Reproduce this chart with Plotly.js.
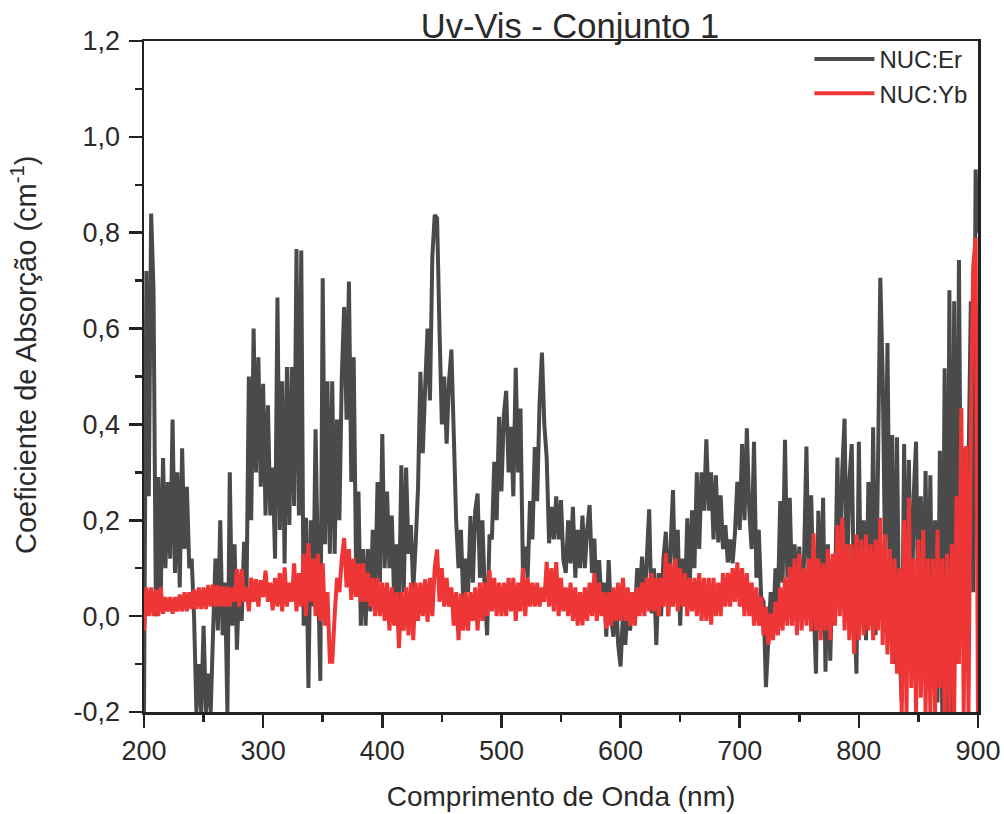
<!DOCTYPE html>
<html>
<head>
<meta charset="utf-8">
<script src="https://cdn.plot.ly/plotly-3.0.1.min.js"></script>
<style>html,body{margin:0;padding:0;background:#fff}</style>
</head>
<body>
<div id="chart" style="width:1004px;height:814px"></div>
<script>
const wavelengths = [
200,202,204,206,208,210,212,214,216,218,220,222,224,226,228,230,232,234,236,238,
240,242,244,246,248,250,252,254,256,258,260,262,264,266,268,270,272,274,276,278,
280,282,284,286,288,290,292,294,296,298,300,302,304,306,308,310,312,314,316,318,
320,322,324,326,328,330,332,334,336,338,340,342,344,346,348,350,352,354,356,358,
360,362,364,366,368,370,372,374,376,378,380,382,384,386,388,390,392,394,396,398,
400,402,404,406,408,410,412,414,416,418,420,422,424,426,428,430,432,434,436,438,
440,442,444,446,448,450,452,454,456,458,460,462,464,466,468,470,472,474,476,478,
480,482,484,486,488,490,492,494,496,498,500,502,504,506,508,510,512,514,516,518,
520,522,524,526,528,530,532,534,536,538,540,542,544,546,548,550,552,554,556,558,
560,562,564,566,568,570,572,574,576,578,580,582,584,586,588,590,592,594,596,598,
600,602,604,606,608,610,612,614,616,618,620,622,624,626,628,630,632,634,636,638,
640,642,644,646,648,650,652,654,656,658,660,662,664,666,668,670,672,674,676,678,
680,682,684,686,688,690,692,694,696,698,700,702,704,706,708,710,712,714,716,718,
720,722,724,726,728,730,732,734,736,738,740,742,744,746,748,750,752,754,756,758,
760,762,764,766,768,770,772,774,776,778,780,782,784,786,788,790,792,794,796,798,
800,802,804,806,808,810,812,814,816,818,820,822,824,826,828,830,832,834,836,838,
840,842,844,846,848,850,852,854,856,858,860,862,864,866,868,870,872,874,876,878,
880,882,884,886,888,890,892,894,896,898,900];

const nucEr = [
-0.20,0.72,0.25,0.84,0.68,0.00,0.29,0.03,0.33,0.10,
0.28,0.12,0.41,0.09,0.30,0.06,0.35,0.14,0.27,0.10,
0.12,0.00,-0.20,-0.10,-0.20,-0.02,-0.20,-0.12,-0.20,-0.03,
0.12,-0.03,0.20,-0.04,0.07,-0.20,0.30,-0.02,0.15,-0.07,
0.08,-0.01,0.155,0.03,0.50,0.20,0.60,0.30,0.54,0.27,
0.485,0.21,0.44,0.21,0.31,0.12,0.665,0.18,0.49,0.11,
0.52,0.19,0.52,0.23,0.766,0.21,0.763,-0.02,0.205,-0.15,
0.20,0.02,0.39,0.10,-0.135,0.705,0.15,0.49,0.13,0.49,
0.13,0.41,0.20,0.50,0.645,0.41,0.698,0.28,0.54,0.10,
0.26,-0.02,0.14,-0.02,0.14,0.01,0.18,0.04,0.28,0.07,
0.38,0.10,0.26,0.10,0.21,0.03,0.15,0.01,0.315,0.05,
0.31,0.13,0.19,0.055,0.15,0.267,0.51,0.34,0.48,0.60,
0.45,0.75,0.837,0.83,0.60,0.40,0.50,0.36,0.49,0.556,
0.38,0.20,0.10,0.18,0.03,0.12,0.05,0.209,0.07,0.22,
0.256,0.08,0.20,0.05,-0.04,0.17,0.16,0.322,0.20,0.416,
0.26,0.42,0.47,0.30,0.395,0.25,0.518,0.30,0.433,0.10,
0.145,0.08,0.24,0.16,0.353,0.24,0.444,0.55,0.40,0.33,
0.152,0.228,0.16,0.25,0.16,0.242,0.117,0.09,0.20,0.11,
0.228,0.08,0.18,0.10,0.21,0.10,0.18,0.232,0.09,0.162,
0.02,0.117,0.03,0.07,-0.043,0.117,0.00,-0.043,0.05,-0.06,
-0.105,0.006,-0.06,0.03,-0.03,0.05,0.00,0.10,0.03,0.124,
0.02,0.12,0.223,0.006,0.10,-0.06,0.09,0.00,0.12,0.176,
0.00,0.15,0.263,0.04,0.18,-0.02,0.12,0.03,0.204,0.06,
0.221,0.10,0.30,0.14,0.30,0.22,0.369,0.22,0.30,0.16,
0.294,0.154,0.252,0.14,0.19,0.112,0.16,0.11,0.173,0.28,
0.18,0.359,0.20,0.392,0.22,0.14,0.364,0.08,0.18,0.04,
0.03,-0.148,-0.05,0.05,-0.03,0.10,0.02,0.24,0.07,0.368,
0.08,0.247,0.05,0.15,0.05,0.145,0.00,0.12,0.354,0.05,
0.252,0.03,-0.12,0.22,-0.03,0.247,-0.116,0.15,-0.093,0.12,
0.05,0.331,0.04,0.30,0.412,0.06,0.28,0.359,0.02,-0.12,
0.364,-0.02,0.20,-0.05,0.28,-0.02,0.394,-0.04,0.30,0.706,
0.50,0.12,0.57,0.08,0.378,-0.10,0.373,-0.06,-0.18,0.359,
-0.05,0.326,-0.10,0.25,0.364,-0.05,0.25,-0.03,0.303,-0.08,
0.294,-0.12,0.20,-0.18,0.345,-0.20,0.517,-0.20,0.68,-0.20,
0.657,-0.10,0.743,0.05,0.35,-0.05,0.30,0.657,0.05,0.932,0.80];

const nucYb = [
-0.03,0.06,0.00,0.06,0.00,0.055,0.00,0.06,0.005,0.04,
0.01,0.04,0.005,0.04,0.01,0.045,0.01,0.05,0.01,0.05,
0.015,0.055,0.015,0.06,0.015,0.06,0.015,0.065,0.02,0.066,
0.02,0.064,0.02,0.062,0.02,0.062,0.02,0.06,0.03,0.098,
0.02,0.098,0.03,0.06,0.01,0.08,0.03,0.077,0.02,0.075,
0.04,0.095,0.03,0.07,0.012,0.08,0.02,0.09,0.01,0.102,
0.02,0.07,0.03,0.11,0.01,0.09,0.02,0.13,0.00,0.152,
0.03,0.12,0.00,0.13,-0.01,0.11,-0.02,0.05,-0.095,-0.095,
0.00,0.08,0.05,0.12,0.163,0.06,0.14,0.034,0.12,0.04,
0.11,0.03,0.11,0.03,0.09,0.02,0.08,0.00,0.08,0.00,
0.07,-0.01,0.07,-0.03,0.06,-0.02,0.05,-0.067,0.05,-0.03,
0.06,-0.04,0.07,-0.05,0.07,-0.01,0.07,0.00,0.077,-0.012,
0.08,0.00,0.10,0.139,0.03,0.10,0.02,0.08,0.02,0.06,
-0.02,0.05,-0.05,0.047,-0.03,0.05,-0.03,0.05,-0.01,0.06,
-0.03,0.07,-0.01,0.07,0.00,0.096,0.01,0.08,0.00,0.07,
0.00,0.07,0.00,0.08,0.01,0.08,-0.01,0.07,0.01,0.10,
0.00,0.08,0.02,0.07,0.02,0.07,0.02,0.06,0.03,0.113,
0.02,0.10,0.01,0.113,0.00,0.08,0.01,0.06,0.00,0.07,
-0.01,0.06,-0.02,0.05,-0.019,0.06,-0.01,0.07,0.00,0.09,
-0.01,0.07,0.00,0.05,-0.026,0.05,-0.02,0.06,-0.01,0.07,
-0.01,0.08,-0.01,0.06,-0.02,0.05,-0.02,0.06,0.00,0.07,
0.00,0.08,0.01,0.09,0.01,0.08,0.00,0.08,0.02,0.131,
0.00,0.11,0.02,0.12,0.01,0.10,0.02,0.09,0.00,0.08,
0.01,0.08,0.00,0.09,-0.01,0.08,-0.01,0.08,-0.018,0.08,
0.00,0.07,0.00,0.09,0.02,0.09,0.02,0.10,0.03,0.112,
0.02,0.10,0.00,0.09,0.00,0.07,-0.02,0.06,-0.02,0.04,
-0.04,0.02,-0.06,0.005,-0.05,0.03,-0.04,0.06,-0.03,0.08,
-0.02,0.103,-0.02,0.12,-0.04,0.13,-0.03,0.10,-0.02,0.12,
-0.032,0.173,-0.03,0.12,-0.05,0.11,-0.03,0.14,-0.05,0.13,
-0.02,0.19,0.00,0.205,-0.03,0.15,-0.05,0.15,-0.079,0.17,
-0.05,0.16,-0.04,0.17,-0.03,0.15,-0.05,0.16,-0.03,0.205,
-0.06,0.17,-0.08,0.14,-0.10,0.12,-0.12,0.10,-0.20,0.20,
-0.20,0.247,-0.15,0.12,-0.20,0.16,-0.17,0.18,-0.20,0.12,
-0.20,0.12,-0.20,0.18,-0.15,0.12,-0.20,0.13,-0.20,0.15,
-0.20,0.25,-0.10,0.434,-0.20,0.355,-0.20,0.40,0.73,0.79,-0.20];

const xTicks = [200,300,400,500,600,700,800,900];
const xMinorTicks = [250,350,450,550,650,750,850];
const yTicks = [-0.2,0,0.2,0.4,0.6,0.8,1.0,1.2];
const yTickLabels = ['-0,2','0,0','0,2','0,4','0,6','0,8','1,0','1,2'];
const yMinorTicks = [-0.1,0.1,0.3,0.5,0.7,0.9,1.1];

const font = 'Liberation Sans, Arial, sans-serif';
const ink = '#2a2a2a';
const traces = [
  {x:wavelengths,y:nucEr,name:'NUC:Er',type:'scatter',mode:'lines',
   line:{color:'#4a4a4a',width:4,simplify:false,join:'bevel'}},
  {x:wavelengths,y:nucYb,name:'NUC:Yb',type:'scatter',mode:'lines',
   line:{color:'#ee3636',width:4,simplify:false,join:'bevel'}}
];
const axisBase = {
  showgrid:false,zeroline:false,showline:true,mirror:true,linecolor:'#222',linewidth:2.5,
  ticks:'outside',ticklen:13,tickwidth:2.5,tickcolor:'#222',
  tickfont:{family:font,size:27,color:ink},tickmode:'array'
};
const layout = {
  width:1004,height:814,paper_bgcolor:'#fff',plot_bgcolor:'#fff',
  margin:{l:144,r:26,t:41,b:102},
  showlegend:true,
  title:{text:'Uv-Vis - Conjunto 1',font:{family:font,size:34.5,color:ink},xref:'container',x:570/1004,y:1-26/814,xanchor:'center',yanchor:'middle'},
  xaxis:Object.assign({},axisBase,{range:[200,900],tickvals:xTicks,ticktext:xTicks.map(String),
    title:{text:'Comprimento de Onda (nm)',font:{family:font,size:28,color:ink},standoff:22},
    minor:{tickmode:'array',tickvals:xMinorTicks,ticks:'outside',ticklen:7,tickwidth:2.5,tickcolor:'#222'}}),
  yaxis:Object.assign({},axisBase,{range:[-0.2,1.2],tickvals:yTicks,ticktext:yTickLabels,ticklabelstandoff:3,
    minor:{tickmode:'array',tickvals:yMinorTicks,ticks:'outside',ticklen:7,tickwidth:2.5,tickcolor:'#222'}}),
  annotations:[{text:'Coeficiente de Absorção (cm<sup>-1</sup>)',textangle:-90,showarrow:false,
    xref:'paper',yref:'paper',x:(24-144)/834,y:(712-355)/671,xanchor:'center',yanchor:'middle',
    font:{family:font,size:29,color:ink}}],
  legend:{x:0.9945,y:1.006,xanchor:'right',yanchor:'top',bgcolor:'rgba(0,0,0,0)',borderwidth:0,
    itemwidth:60,font:{family:font,size:24,color:ink}}
};
Plotly.newPlot('chart',traces,layout,{displayModeBar:false,staticPlot:true});
</script>
</body>
</html>
